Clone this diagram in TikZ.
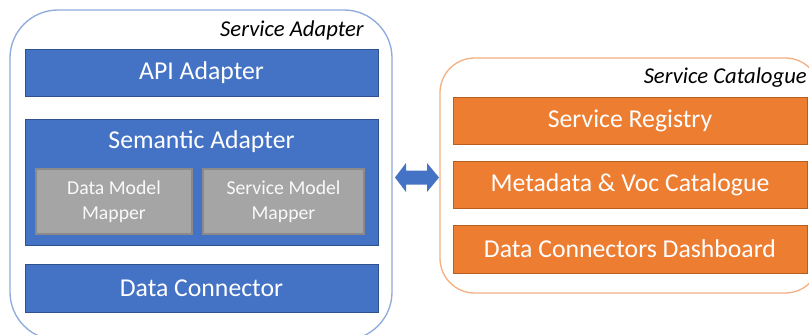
\documentclass[tikz,border=0pt]{standalone}
\usepackage{fontspec}
\setmainfont{Carlito}
\usetikzlibrary{calc}
\definecolor{cblue}{HTML}{4472C4}
\definecolor{cblueline}{HTML}{2F528F}
\definecolor{corange}{HTML}{ED7D31}
\definecolor{corangeline}{HTML}{B85F20}
\definecolor{cgray}{HTML}{A5A5A5}
\definecolor{cgrayline}{HTML}{8A8A8A}
\definecolor{cbluecont}{HTML}{8FAADC}
\definecolor{corangecont}{HTML}{F4B183}
\tikzset{
  bluebox/.style={draw=cblueline, line width=0.6pt, fill=cblue, text=white, inner sep=0pt, font=\fontsize{19.3}{22}\selectfont},
  orangebox/.style={draw=corangeline, line width=0.6pt, fill=corange, text=white, inner sep=0pt, font=\fontsize{19.3}{22}\selectfont, minimum width=265.5pt},
  graybox/.style={draw=cgrayline, line width=0.8pt, fill=cgray, text=white!95!gray, inner sep=0pt, align=center, font=\fontsize{14.8}{18.5}\selectfont, minimum height=48.75pt},
  contlabel/.style={anchor=east, inner sep=0pt, font=\fontsize{17}{20}\selectfont\itshape, text=black},
  boxlabel/.style={inner sep=0pt, text=white, font=\fontsize{19.3}{22}\selectfont}
}
\begin{document}
\begin{tikzpicture}[x=0.75pt,y=-0.75pt]
\useasboundingbox (0,0) rectangle (809,335);
\clip (0,0) rectangle (809,335);
\fill[white] (0,0) rectangle (809,335);
% containers
\draw[cbluecont, line width=1pt, rounded corners=36pt] (10,10) rectangle (392,340);
\draw[corangecont, line width=1pt, rounded corners=26pt] (440,58) rectangle (820,293);
\node[contlabel] (salabel) at (364,30) {Service Adapter};
\node[contlabel] (sclabel) at (807,78) {Service Catalogue};
% left boxes
\node[bluebox, minimum width=264.75pt, minimum height=35.25pt] (api) at (201.5,72.5) {API Adapter};
\node[bluebox, minimum width=264.75pt, minimum height=94.5pt] (sem) at (201.5,182) {};
\node[boxlabel] (semlabel) at (201.5,142) {Semantic Adapter};
\node[graybox, minimum width=117pt] (dmm) at (114,201.5) {Data Model\\Mapper};
\node[graybox, minimum width=120.75pt] (smm) at (283.5,201.5) {Service Model\\Mapper};
\node[bluebox, minimum width=264.75pt, minimum height=36pt] (dc) at (201.5,288) {Data Connector};
% right boxes
\node[orangebox, minimum height=35.25pt] (sr) at (630,120.5) {Service Registry};
\node[orangebox, minimum height=35.25pt] (mvc) at (630,184.5) {Metadata \& Voc Catalogue};
\node[orangebox, minimum height=36pt] (dcd) at (630,249) {Data Connectors Dashboard};
% double arrow
\coordinate (arrL) at (395,177.5);
\coordinate (arrR) at (439,177.5);
\fill[cblue] (arrL) -- ($(arrL)+(11,-14.5)$) -- ($(arrL)+(11,-7)$) -- ($(arrR)+(-12,-7)$) -- ($(arrR)+(-12,-14.5)$) -- (arrR)
  -- ($(arrR)+(-12,14.5)$) -- ($(arrR)+(-12,7)$) -- ($(arrL)+(11,7)$) -- ($(arrL)+(11,14.5)$) -- cycle;
\end{tikzpicture}
\end{document}
